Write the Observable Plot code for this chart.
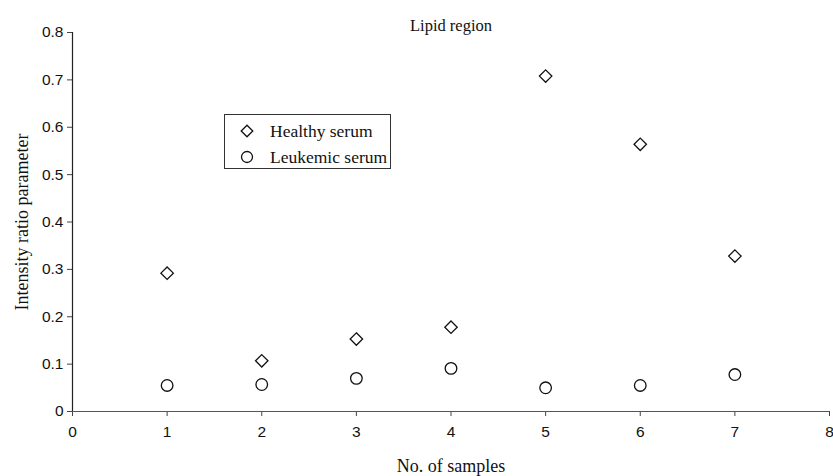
<!DOCTYPE html>
<html>
<head>
<meta charset="utf-8">
<script src="https://cdn.jsdelivr.net/npm/d3@7"></script>
<script src="https://cdn.jsdelivr.net/npm/@observablehq/plot@0.6"></script>
<style>
  html, body { margin: 0; padding: 0; background: #fff; }
  #wrap { position: relative; width: 833px; height: 476px; }
  #legend { position: absolute; left: 224px; top: 114px; width: 165px; height: 53px;
    border: 1px solid #333; background: #fff; font-family: "Liberation Serif", "Times New Roman", serif;
    font-size: 17.5px; color: #111; }
  #legend .row { position: absolute; left: 0; display: flex; align-items: center; height: 22px; }
  #legend svg { margin-left: 15px; margin-right: 16px; }
</style>
</head>
<body>
<div id="wrap"></div>
<script>
const samples = [1, 2, 3, 4, 5, 6, 7];
const healthy = [0.292, 0.107, 0.153, 0.178, 0.708, 0.564, 0.328];
const leukemic = [0.055, 0.057, 0.070, 0.091, 0.050, 0.055, 0.078];
const xTicks = [0, 1, 2, 3, 4, 5, 6, 7, 8];
const yTicks = [0, 0.1, 0.2, 0.3, 0.4, 0.5, 0.6, 0.7, 0.8];
const seriesNames = ["Healthy serum", "Leukemic serum"];
const title = "Lipid region";
const xLabel = "No. of samples";
const yLabel = "Intensity ratio parameter";

const healthyData = samples.map((s, i) => ({x: s, y: healthy[i]}));
const leukemicData = samples.map((s, i) => ({x: s, y: leukemic[i]}));

const serif = "'Liberation Serif', 'Times New Roman', serif";
const sans = "'Liberation Sans', Arial, sans-serif";

const chart = Plot.plot({
  width: 833,
  height: 476,
  marginLeft: 72,
  marginRight: 4,
  marginTop: 32,
  marginBottom: 65,
  style: {fontFamily: sans, fontSize: "15.5px", color: "#111", background: "#fff"},
  x: {domain: [0, 8]},
  y: {domain: [0, 0.8]},
  marks: [
    Plot.axisX({ticks: xTicks, tickSize: 5, tickPadding: 9, label: null, stroke: "#444", fontSize: "15.5px"}),
    Plot.axisY({ticks: yTicks, tickSize: 5, tickPadding: 4, label: null, stroke: "#444",
      tickFormat: d => d === 0 ? "0" : d3.format(".1f")(d), fontSize: "15.5px"}),
    Plot.ruleY([0], {stroke: "#555", strokeWidth: 1.2}),
    Plot.ruleX([0], {stroke: "#222", strokeWidth: 1.2}),
    Plot.dot(healthyData, {x: "x", y: "y", symbol: "diamond2", r: 5.6, stroke: "#111", strokeWidth: 1.3, fill: "#fff"}),
    Plot.dot(leukemicData, {x: "x", y: "y", symbol: "circle", r: 5.8, stroke: "#111", strokeWidth: 1.3, fill: "#fff"}),
    Plot.text([title], {text: d => d, frameAnchor: "top", dy: -2, lineAnchor: "bottom", fontFamily: serif, fontSize: 16.5, fill: "#111"}),
    Plot.text([xLabel], {text: d => d, frameAnchor: "bottom", dy: 60, lineAnchor: "bottom", fontFamily: serif, fontSize: 18, fill: "#111"}),
    Plot.text([yLabel], {text: d => d, frameAnchor: "left", dx: -50, rotate: -90, textAnchor: "middle", lineAnchor: "middle", fontFamily: serif, fontSize: 18, fill: "#111"})
  ]
});
const wrap = document.getElementById("wrap");
wrap.appendChild(chart);

const legend = document.createElement("div");
legend.id = "legend";
const syms = [
  '<svg width="14" height="14" viewBox="-7 -7 14 14"><path d="M0,-5.8L5.8,0L0,5.8L-5.8,0Z" fill="#fff" stroke="#111" stroke-width="1.3"/></svg>',
  '<svg width="14" height="14" viewBox="-7 -7 14 14"><circle r="5.5" fill="#fff" stroke="#111" stroke-width="1.3"/></svg>'
];
seriesNames.forEach((name, i) => {
  const row = document.createElement("div");
  row.className = "row";
  row.style.top = (5 + i * 26) + "px";
  row.innerHTML = syms[i] + "<span>" + name + "</span>";
  legend.appendChild(row);
});
wrap.appendChild(legend);
</script>
</body>
</html>
